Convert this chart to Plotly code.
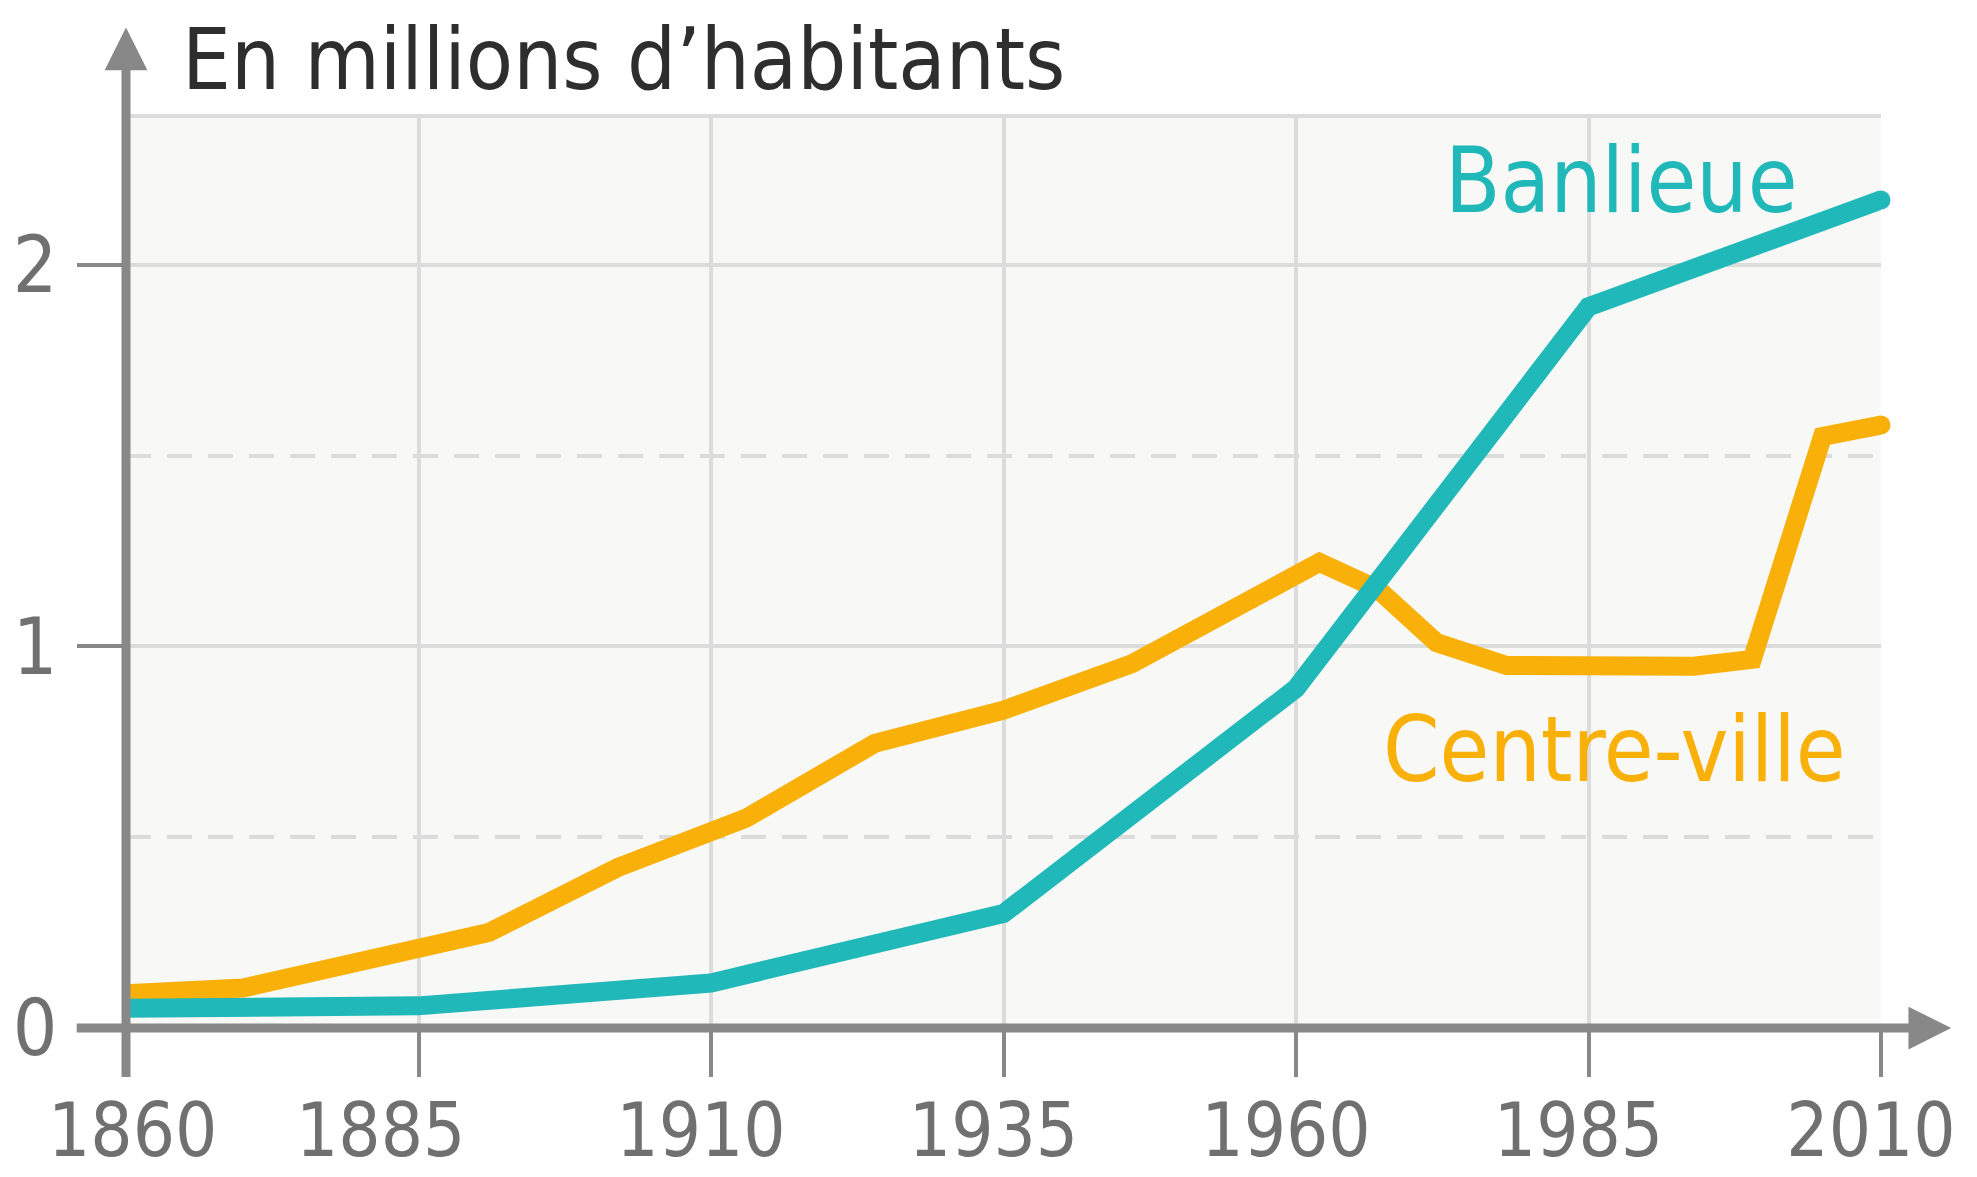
import plotly.graph_objects as go

# data (millions of inhabitants)
years_banlieue = [1860, 1870, 1885, 1910, 1935, 1960, 1985, 2010]
banlieue = [0.052, 0.055, 0.058, 0.118, 0.30, 0.89, 1.89, 2.17]

years_centre = [1860, 1870, 1891, 1902, 1913, 1924, 1935, 1946, 1962, 1967,
                1972, 1978, 1994, 1999, 2005, 2010]
centre = [0.09, 0.105, 0.25, 0.42, 0.55, 0.746, 0.833, 0.955, 1.22, 1.15,
          1.01, 0.95, 0.948, 0.966, 1.55, 1.58]

x_ticks = [1860, 1885, 1910, 1935, 1960, 1985, 2010]
# padding spaces nudge 1860 right and 1885 left, like in the original
x_ticktext = ["\u20021860", "1885\u2007\u2009", "1910", "1935", "1960", "1985", "2010"]
y_ticks = [0, 1, 2]

TEAL = "#20b8b8"
ORANGE = "#f9b008"
AXIS = "#888888"
GRID = "#dcdcdc"
LABEL = "#707070"
FONT = "DejaVu Sans Condensed, Liberation Sans Narrow, Roboto Condensed, DejaVu Sans, sans-serif"

fig = go.Figure()

fig.add_trace(go.Scatter(
    x=years_centre, y=centre, mode="lines",
    line=dict(color=ORANGE, width=19),
    hoverinfo="skip", showlegend=False))

fig.add_trace(go.Scatter(
    x=years_banlieue, y=banlieue, mode="lines",
    line=dict(color=TEAL, width=19),
    hoverinfo="skip", showlegend=False))

# round caps at the right end
fig.add_trace(go.Scatter(
    x=[years_centre[-1], years_banlieue[-1]], y=[centre[-1], banlieue[-1]],
    mode="markers", marker=dict(color=[ORANGE, TEAL], size=19),
    cliponaxis=False, hoverinfo="skip", showlegend=False))

fig.update_xaxes(
    range=[1860, 2010], tickvals=x_ticks, ticktext=x_ticktext,
    showgrid=True, gridcolor=GRID, gridwidth=4,
    ticks="outside", ticklen=48, tickwidth=4, tickcolor=AXIS,
    ticklabelshift=-10, ticklabelstandoff=-10,
    tickfont=dict(family=FONT, size=74, color=LABEL),
    zeroline=False, showline=False, fixedrange=True, automargin=False)

fig.update_yaxes(
    range=[0, 2.39], tickvals=y_ticks,
    showgrid=True, gridcolor=GRID, gridwidth=4,
    minor=dict(tickvals=[0.5, 1.5], showgrid=True, gridcolor=GRID,
               gridwidth=4, griddash="25px,16px", ticks=""),
    ticks="outside", ticklen=48, tickwidth=4, tickcolor=AXIS,
    ticklabelstandoff=4,
    tickfont=dict(family=FONT, size=78, color=LABEL),
    zeroline=False, showline=False, fixedrange=True, automargin=False)

# top border of the plot area
fig.add_shape(type="line", xref="paper", yref="paper", x0=0, x1=1, y0=1, y1=1,
              line=dict(color=GRID, width=4), layer="below")

# axes with arrows
fig.add_annotation(xref="paper", yref="y", x=1.04, y=0, ax=-1876, ay=0,
                   text="", showarrow=True, arrowhead=2, arrowsize=0.95,
                   arrowwidth=9, arrowcolor=AXIS, standoff=0)
fig.add_annotation(xref="x", yref="paper", x=1860, y=1.097, ax=0, ay=1051,
                   text="", showarrow=True, arrowhead=2, arrowsize=0.95,
                   arrowwidth=9, arrowcolor=AXIS, standoff=0)

# title and series labels
fig.add_annotation(xref="paper", yref="paper", x=0.031, y=1.062,
                   xanchor="left", yanchor="middle", showarrow=False,
                   text="En millions d\u2019habitants",
                   font=dict(family=FONT, size=86, color="#2e2e2e"))
fig.add_annotation(x=1987.8, y=2.22, xanchor="center", yanchor="middle",
                   showarrow=False, text="Banlieue",
                   font=dict(family=FONT, size=90, color=TEAL))
fig.add_annotation(x=1987.2, y=0.73, xanchor="center", yanchor="middle",
                   showarrow=False, text="Centre-ville",
                   font=dict(family=FONT, size=90, color=ORANGE))

# the page body adds an 8px offset, so the figure is 8px smaller
fig.update_layout(
    width=1969, height=1169, autosize=False,
    margin=dict(l=118, r=96, t=108, b=149, pad=0),
    paper_bgcolor="white", plot_bgcolor="#f8f8f6",
    font=dict(family=FONT))

fig.write_html("out.html")
